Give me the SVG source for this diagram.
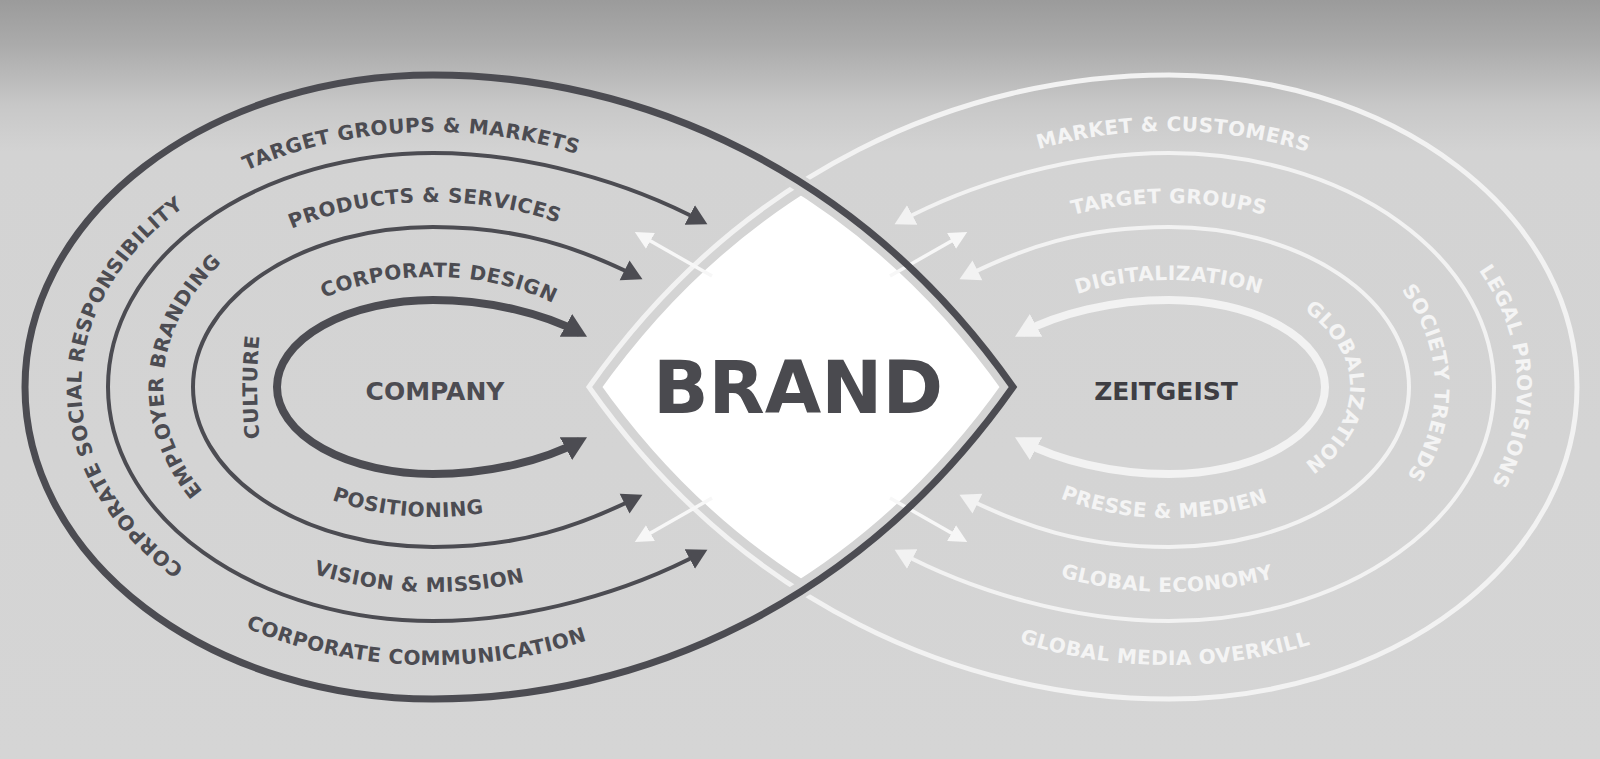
<svg xmlns="http://www.w3.org/2000/svg" width="1600" height="759" viewBox="0 0 1600 759">
<style>
.dk{fill:none;stroke:#4c4c52}
.lt{fill:none;stroke:#f2f2f2}
.lbl{font-family:"DejaVu Sans","Liberation Sans",sans-serif;font-weight:700;font-size:20px;letter-spacing:0.5px;text-anchor:middle}
.lblD{fill:#4c4c52}
.lblL{fill:#f4f4f4}
.big{font-family:"DejaVu Sans","Liberation Sans",sans-serif;font-weight:700;text-anchor:middle}
</style>
<defs>
<linearGradient id="bgGrad" x1="0" y1="0" x2="0" y2="1">
<stop offset="0" stop-color="#9b9b9b"/>
<stop offset="0.06" stop-color="#ababab"/>
<stop offset="0.14" stop-color="#c8c8c8"/>
<stop offset="0.2" stop-color="#d3d3d3"/>
<stop offset="1" stop-color="#d5d5d5"/>
</linearGradient>
<path id="darkLoopPath" d="M1013 387 C860 170 640 75 433 75 A408 312 0 0 0 433 699 C640 699 860 604 1013 387 Z"/>
<path id="lightLoopPath" d="M589 387 C742 170 962 75 1169 75 A408 312 0 0 1 1169 699 C962 699 742 604 589 387 Z"/>
<clipPath id="clipDark"><path d="M1013 387 C860 170 640 75 433 75 A408 312 0 0 0 433 699 C640 699 860 604 1013 387 Z"/></clipPath>
<clipPath id="clipLight"><path d="M589 387 C742 170 962 75 1169 75 A408 312 0 0 1 1169 699 C962 699 742 604 589 387 Z"/></clipPath>
<path id="ring3" d="M703 222 C630 183 530 153 433 153 A325 234 0 0 0 433 621 C530 621 630 591 703 552"/>
<path id="ring2" d="M638 277 C580 248 520 227 433 227 A240 160 0 0 0 433 547 C520 547 580 526 638 497"/>
<path id="ring1" d="M580 333 C545 314 490 300 433 300 A156 87 0 0 0 433 474 C490 474 545 460 580 441"/>
<marker id="mDk" viewBox="0 -12 22 24" refX="15" refY="0" markerWidth="22" markerHeight="24" markerUnits="userSpaceOnUse" orient="auto-start-reverse"><path d="M0,-11 L20,0 L0,11 Z" fill="#4c4c52"/></marker>
<marker id="mDkT" viewBox="0 -14 26 28" refX="16" refY="0" markerWidth="26" markerHeight="28" markerUnits="userSpaceOnUse" orient="auto-start-reverse"><path d="M0,-13 L24,0 L0,13 Z" fill="#4c4c52"/></marker>
<marker id="mLt" viewBox="0 -12 22 24" refX="15" refY="0" markerWidth="22" markerHeight="24" markerUnits="userSpaceOnUse" orient="auto-start-reverse"><path d="M0,-11 L20,0 L0,11 Z" fill="#f2f2f2"/></marker>
<marker id="mLtT" viewBox="0 -14 26 28" refX="16" refY="0" markerWidth="26" markerHeight="28" markerUnits="userSpaceOnUse" orient="auto-start-reverse"><path d="M0,-13 L24,0 L0,13 Z" fill="#f2f2f2"/></marker>
<marker id="mWh" viewBox="0 -10 20 20" refX="12" refY="0" markerWidth="20" markerHeight="20" markerUnits="userSpaceOnUse" orient="auto"><path d="M0,-9 L18,0 L0,9 Z" fill="#f7f7f7"/></marker>
<path id="tL1" d="M82.3 364.8 A352 255 0 0 1 773.0 321.0"/>
<path id="tL2" d="M167.4 347.0 A272 185 0 0 1 692.4 331.4"/>
<path id="tL3" d="M257.1 353.0 A185 110 0 0 1 614.0 364.1"/>
<path id="tL4" d="M371.9 638.1 A352 255 0 0 1 371.9 135.9"/>
<path id="tL5" d="M349.6 577.2 A270 200 0 0 1 376.9 191.4"/>
<path id="tL6" d="M298.2 579.8 A176 300 0 0 1 298.2 194.2"/>
<path id="tL8" d="M230.8 408.5 A205 130 0 0 0 609.6 453.0"/>
<path id="tL9" d="M154.5 444.2 A290 205 0 0 0 698.4 469.7"/>
<path id="tL10" d="M73.4 466.0 A375 278 0 0 0 776.9 497.8"/>
<path id="tR1" d="M823.5 338.2 A352 256 0 0 1 1516.7 347.0"/>
<path id="tR2" d="M906.3 339.4 A272 184 0 0 1 1431.7 339.4"/>
<path id="tR3" d="M990.3 359.3 A185 107 0 0 1 1347.7 359.3"/>
<path id="tR4" d="M1247.3 138.5 A348 255 0 0 1 1270.8 630.9"/>
<path id="tR5" d="M1255.6 197.9 A266 200 0 0 1 1264.3 573.7"/>
<path id="tR6" d="M1230.9 278.9 A181 115 0 0 1 1230.9 495.1"/>
<path id="tR8" d="M974.0 427.5 A205 131 0 0 0 1359.1 436.1"/>
<path id="tR9" d="M895.6 455.4 A290 205 0 0 0 1440.6 458.8"/>
<path id="tR10" d="M814.8 478.4 A375 278 0 0 0 1519.6 485.7"/>
</defs>

<rect id="background" x="0" y="0" width="1600" height="759" fill="url(#bgGrad)"/>

<g id="brand">
<g clip-path="url(#clipDark)">
<g clip-path="url(#clipLight)">
<rect x="560" y="150" width="480" height="480" fill="#ffffff"/>
<use href="#darkLoopPath" fill="none" stroke="#d4d4d4" stroke-width="22"/>
<use href="#lightLoopPath" fill="none" stroke="#d4d4d4" stroke-width="22"/>
</g>
</g>
<text class="big" x="798" y="413" font-size="73" fill="#4a4a4f">BRAND</text>
</g>

<g id="zeitgeist-loop">
<use href="#lightLoopPath" class="lt" stroke-width="5"/>
</g>

<g id="connectors">
<path d="M712 276 L640 235" stroke="#f7f7f7" stroke-width="3.5" fill="none" marker-end="url(#mWh)"/>
<path d="M712 498 L640 539" stroke="#f7f7f7" stroke-width="3.5" fill="none" marker-end="url(#mWh)"/>
<path d="M890 276 L962 235" stroke="#f7f7f7" stroke-width="3.5" fill="none" marker-end="url(#mWh)"/>
<path d="M890 498 L962 539" stroke="#f7f7f7" stroke-width="3.5" fill="none" marker-end="url(#mWh)"/>
</g>

<g id="company-loop">
<path d="M813 191.6 L789 176.4 M813 582.4 L789 597.6" stroke="#d4d4d4" stroke-width="17" fill="none"/>
<use href="#darkLoopPath" class="dk" stroke-width="7"/>
</g>

<g id="company-rings">
<use href="#ring3" class="dk" stroke-width="4" marker-start="url(#mDk)" marker-end="url(#mDk)"/>
<use href="#ring2" class="dk" stroke-width="4" marker-start="url(#mDk)" marker-end="url(#mDk)"/>
<use href="#ring1" class="dk" stroke-width="8" marker-start="url(#mDkT)" marker-end="url(#mDkT)"/>
</g>

<g id="zeitgeist-rings" transform="matrix(-1 0 0 1 1602 0)">
<use href="#ring3" class="lt" stroke-width="4" marker-start="url(#mLt)" marker-end="url(#mLt)"/>
<use href="#ring2" class="lt" stroke-width="4" marker-start="url(#mLt)" marker-end="url(#mLt)"/>
<use href="#ring1" class="lt" stroke-width="8" marker-start="url(#mLtT)" marker-end="url(#mLtT)"/>
</g>

<g id="company">
<text class="big" x="435" y="400" font-size="25" fill="#4c4c52">COMPANY</text>
<text class="lbl lblD"><textPath href="#tL1" startOffset="50%">TARGET GROUPS &amp; MARKETS</textPath></text>
<text class="lbl lblD"><textPath href="#tL2" startOffset="50%">PRODUCTS &amp; SERVICES</textPath></text>
<text class="lbl lblD"><textPath href="#tL3" startOffset="50%">CORPORATE DESIGN</textPath></text>
<text class="lbl lblD"><textPath href="#tL4" startOffset="50%">CORPORATE SOCIAL RESPONSIBILITY</textPath></text>
<text class="lbl lblD"><textPath href="#tL5" startOffset="50%">EMPLOYER BRANDING</textPath></text>
<text class="lbl lblD"><textPath href="#tL6" startOffset="50%">CULTURE</textPath></text>
<text class="lbl lblD"><textPath href="#tL8" startOffset="50%">POSITIONING</textPath></text>
<text class="lbl lblD"><textPath href="#tL9" startOffset="50%">VISION &amp; MISSION</textPath></text>
<text class="lbl lblD"><textPath href="#tL10" startOffset="50%">CORPORATE COMMUNICATION</textPath></text>
</g>

<g id="zeitgeist">
<text class="big" x="1166" y="400" font-size="25" fill="#3e3e43">ZEITGEIST</text>
<text class="lbl lblL"><textPath href="#tR1" startOffset="50%">MARKET &amp; CUSTOMERS</textPath></text>
<text class="lbl lblL"><textPath href="#tR2" startOffset="50%">TARGET GROUPS</textPath></text>
<text class="lbl lblL"><textPath href="#tR3" startOffset="50%">DIGITALIZATION</textPath></text>
<text class="lbl lblL"><textPath href="#tR4" startOffset="50%">LEGAL PROVISIONS</textPath></text>
<text class="lbl lblL"><textPath href="#tR5" startOffset="50%">SOCIETY TRENDS</textPath></text>
<text class="lbl lblL"><textPath href="#tR6" startOffset="50%">GLOBALIZATION</textPath></text>
<text class="lbl lblL"><textPath href="#tR8" startOffset="50%">PRESSE &amp; MEDIEN</textPath></text>
<text class="lbl lblL"><textPath href="#tR9" startOffset="50%">GLOBAL ECONOMY</textPath></text>
<text class="lbl lblL"><textPath href="#tR10" startOffset="50%">GLOBAL MEDIA OVERKILL</textPath></text>
</g>
</svg>
